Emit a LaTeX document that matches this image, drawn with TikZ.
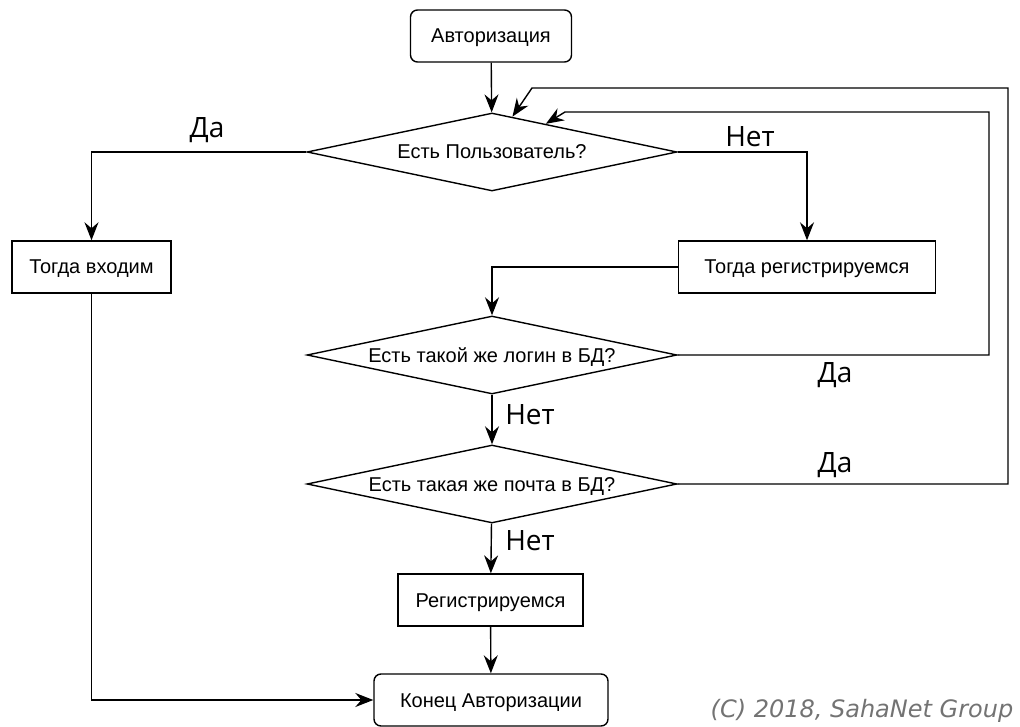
\documentclass[tikz,border=0pt]{standalone}
\usepackage{fontspec}
\setmainfont{Liberation Sans}
\newfontfamily\lblfont{Open Sans}
\newfontfamily\copyfont{DejaVu Sans}
\usetikzlibrary{shapes.geometric,arrows.meta,calc}
\tikzset{
	box/.style={draw,line width=1.4pt,minimum width=#1,minimum height=52pt,inner sep=0pt,text height=19pt,text depth=5pt,font=\fontsize{20}{22}\selectfont},
	rbox/.style={box=#1,rounded corners=7pt},
	ask/.style={draw,line width=1.4pt,diamond,aspect=4.74,minimum width=370pt,minimum height=78pt,inner sep=0pt,text height=19pt,text depth=5pt,font=\fontsize{20}{22}\selectfont},
	arr/.style={line width=1.4pt,-{Stealth[length=18pt,width=14pt,inset=6pt]}},
	lbl/.style={font=\lblfont\fontsize{28}{30}\selectfont}
}
\begin{document}
\begin{tikzpicture}[x=1pt,y=-1pt]
\useasboundingbox (0,0) rectangle (1020,727);
\node[rbox=161pt] (auth) at (491,36) {Авторизация};
\node[ask] (q1) at (492,152) {Есть Пользователь?};
\node[box=159pt] (login) at (91.5,267) {Тогда входим};
\node[box=257pt] (reg) at (807,267) {Тогда регистрируемся};
\node[ask] (q2) at (492,355) {Есть такой же логин в БД?};
\node[ask] (q3) at (492,484) {Есть такая же почта в БД?};
\node[box=185pt] (save) at (490.5,600) {Регистрируемся};
\node[rbox=234pt] (fin) at (491,700) {Конец Авторизации};
\coordinate (in1) at ($(q1.north)!.11!(q1.east)$);
\coordinate (in2) at ($(q1.north)!.29!(q1.east)$);
\draw[arr] (auth) -- (q1);
\draw[arr] (q1.west) -| (login.north);
\draw[arr] (q1.east) -| (reg.north);
\draw[arr] (reg.west) -| (q2.north);
\draw[arr] (q2) -- (q3);
\draw[arr] (q3) -- (save);
\draw[arr] (save) -- (fin);
\draw[arr] (login.south) |- (fin.west);
\draw[arr] (q2.east) -- (989,355) -- (989,112) -- (565,112) -- (in2);
\draw[arr] (q3.east) -- (1008,484) -- (1008,88) -- (532,88) -- (in1);
\node[lbl] (l1) at (207,130) {Да};
\node[lbl] (l2) at (750,137) {Нет};
\node[lbl] (l3) at (835,375) {Да};
\node[lbl] (l4) at (530,415) {Нет};
\node[lbl] (l5) at (835,465) {Да};
\node[lbl] (l6) at (530,541) {Нет};
\node[text=black!55,font=\copyfont\itshape\fontsize{24}{26}\selectfont] (copy) at (862,711) {(C) 2018, SahaNet Group};
\end{tikzpicture}
\end{document}
